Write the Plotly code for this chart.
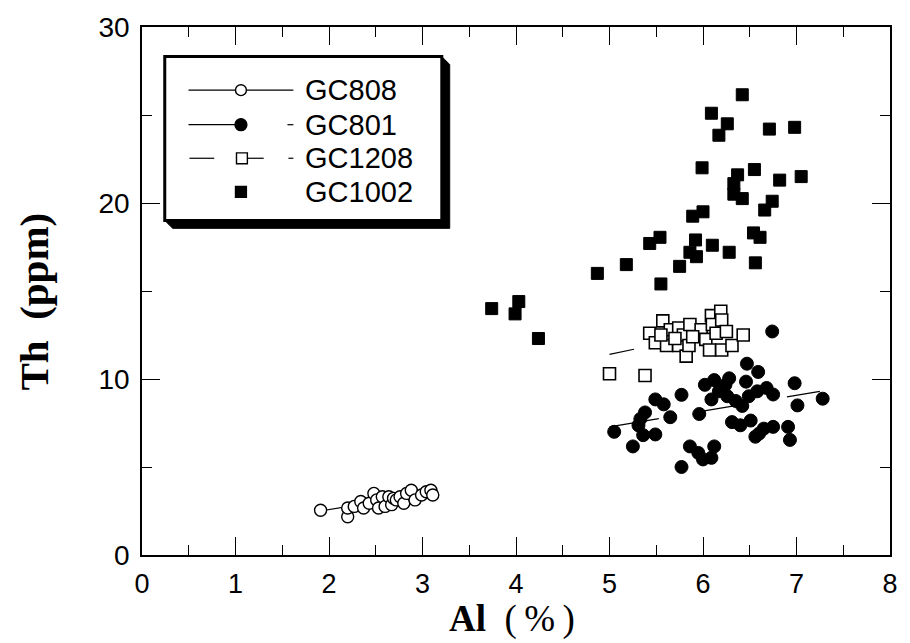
import plotly.graph_objects as go

# ---------------- data ----------------
gc808_al = [1.91, 2.20, 2.20, 2.27, 2.34, 2.37, 2.43, 2.48, 2.51, 2.53, 2.57, 2.60, 2.64,
            2.67, 2.69, 2.72, 2.76, 2.80, 2.83, 2.88, 2.92, 2.99, 3.04, 3.09, 3.11]
gc808_th = [2.54, 2.17, 2.67, 2.76, 3.04, 2.67, 2.94, 3.50, 3.13, 2.67, 3.31, 2.76, 3.31,
            2.86, 3.22, 3.13, 3.31, 2.94, 3.50, 3.68, 3.13, 3.41, 3.59, 3.68, 3.41]

gc801_al = [6.74, 6.47, 6.59, 6.98, 7.28, 7.01, 5.77, 5.49, 5.58, 5.38, 5.33, 5.31, 5.05,
            5.65, 5.36, 5.49, 5.25, 5.96, 5.77, 5.86, 5.95, 6.00, 6.09, 6.12, 6.02, 6.12,
            6.28, 6.17, 6.09, 6.26, 6.35, 6.46, 6.49, 6.58, 6.68, 6.75, 6.42, 6.31, 6.40,
            6.51, 6.60, 6.65, 6.75, 6.91, 6.93, 6.56, 6.24]
gc801_th = [12.7, 10.87, 10.4, 9.76, 8.88, 8.5, 9.1, 8.84, 8.56, 8.1, 7.73, 7.37, 7.0,
            7.83, 6.81, 6.85, 6.17, 8.01, 5.0, 6.17, 5.8, 5.43, 5.52, 6.17, 9.67, 9.94,
            10.04, 9.3, 8.84, 9.02, 8.75, 9.85, 9.02, 9.3, 9.49, 9.12, 8.47, 7.55, 7.37,
            7.64, 6.9, 7.18, 7.28, 7.28, 6.54, 6.72, 9.67]

gc1208_al = [5.00, 5.38, 5.43, 5.49, 5.57, 5.61, 5.65, 5.74, 5.74, 5.79, 5.82, 5.85, 5.86,
             5.98, 6.03, 6.07, 6.09, 6.10, 6.19, 6.20, 6.14, 6.20, 6.25, 6.31, 6.43, 5.55,
             5.70, 5.89]
gc1208_th = [10.3, 10.2, 12.6, 12.06, 13.3, 11.9, 12.8, 12.9, 11.9, 12.5, 11.3, 11.9, 13.1,
             12.8, 12.25, 11.65, 13.6, 13.1, 13.85, 13.35, 12.6, 11.65, 12.7, 11.9, 12.5, 12.5,
             12.3, 12.4]

gc1002_al = [6.42, 6.09, 6.26, 6.17, 6.71, 6.98, 5.99, 6.55, 6.37, 6.82, 7.05, 6.33, 6.33,
             6.42, 6.74, 6.66, 6.00, 5.89, 6.54, 6.61, 5.54, 5.43, 5.92, 6.10, 6.28, 5.86,
             5.93, 5.75, 6.56, 5.18, 4.87, 5.55, 4.03, 3.99, 3.74, 4.24]
gc1002_th = [26.15, 25.1, 24.5, 23.85, 24.2, 24.3, 22.0, 21.9, 21.6, 21.3, 21.5, 21.1, 20.5,
             20.25, 20.1, 19.6, 19.5, 19.25, 18.3, 18.05, 18.05, 17.7, 17.9, 17.6, 17.2, 17.2,
             16.95, 16.4, 16.6, 16.5, 16.0, 15.4, 14.4, 13.7, 14.0, 12.3]

# fitted trend lines (end points)
fit808_al, fit808_th = [1.91, 3.10], [2.50, 3.55]
fit801_al, fit801_th = [5.00, 7.25], [7.28, 9.30]
fit1208_al, fit1208_th = [5.00, 6.40], [11.40, 12.95]

x_ticks = [0, 1, 2, 3, 4, 5, 6, 7, 8]
y_ticks = [0, 10, 20, 30]
series_names = ["GC808", "GC801", "GC1208", "GC1002"]

# ---------------- layout geometry ----------------
W, H = 910, 643
L, R, T, B = 142, 12, 20, 88
PW, PH = W - L - R, H - T - B


def px(xp):
    return (xp - L) / PW


def py(yp):
    return (T + PH - yp) / PH


fig = go.Figure()

# trend lines
fig.add_trace(go.Scatter(x=fit808_al, y=fit808_th, mode="lines",
                         line=dict(color="black", width=1.2), showlegend=False, hoverinfo="skip"))
fig.add_trace(go.Scatter(x=fit801_al, y=fit801_th, mode="lines",
                         line=dict(color="black", width=1.2, dash="50px,40px"), showlegend=False,
                         hoverinfo="skip"))
fig.add_trace(go.Scatter(x=fit1208_al, y=fit1208_th, mode="lines",
                         line=dict(color="black", width=1.2, dash="25px,25px"), showlegend=False,
                         hoverinfo="skip"))

# markers
fig.add_trace(go.Scatter(x=gc1002_al, y=gc1002_th, mode="markers", name=series_names[3],
                         marker=dict(symbol="square", size=12, color="black",
                                     line=dict(color="black", width=1)), showlegend=False))
fig.add_trace(go.Scatter(x=gc801_al, y=gc801_th, mode="markers", name=series_names[1],
                         marker=dict(symbol="circle", size=13, color="black",
                                     line=dict(color="black", width=1)), showlegend=False))
fig.add_trace(go.Scatter(x=gc1208_al, y=gc1208_th, mode="markers", name=series_names[2],
                         marker=dict(symbol="square", size=12, color="white",
                                     line=dict(color="black", width=1.6)), showlegend=False))
fig.add_trace(go.Scatter(x=gc808_al, y=gc808_th, mode="markers", name=series_names[0],
                         marker=dict(symbol="circle", size=12, color="white",
                                     line=dict(color="black", width=1.4)), showlegend=False))

# ---------------- custom legend box with 3-D shadow ----------------
shapes = []
bx0, by0, bx1, by1, sh = 165, 50, 445, 216, 8
shapes.append(dict(type="path", xref="paper", yref="paper",
                   path=(f"M {px(bx1)},{py(by0)} L {px(bx1 + sh)},{py(by0 + sh)} "
                         f"L {px(bx1 + sh)},{py(by1 + sh)} L {px(bx0 + sh)},{py(by1 + sh)} "
                         f"L {px(bx0)},{py(by1)} Z"),
                   fillcolor="black", line=dict(color="black", width=1)))
shapes.append(dict(type="rect", xref="paper", yref="paper",
                   x0=px(bx0), x1=px(bx1), y0=py(by0), y1=py(by1),
                   fillcolor="white", line=dict(color="black", width=3)))

rows = [84, 119, 153, 187]
text_x = 305


def hline(x0, x1, y):
    shapes.append(dict(type="line", xref="paper", yref="paper",
                       x0=px(x0), x1=px(x1), y0=py(y), y1=py(y),
                       line=dict(color="black", width=1.2)))


def circ(cx, cy, r, fill):
    shapes.append(dict(type="circle", xref="paper", yref="paper",
                       x0=px(cx - r), x1=px(cx + r), y0=py(cy - r), y1=py(cy + r),
                       fillcolor=fill, line=dict(color="black", width=1.4)))


def sq(cx, cy, r, fill):
    shapes.append(dict(type="rect", xref="paper", yref="paper",
                       x0=px(cx - r), x1=px(cx + r), y0=py(cy - r), y1=py(cy + r),
                       fillcolor=fill, line=dict(color="black", width=1.4)))


# GC808
hline(189, 295, rows[0]); circ(242, rows[0], 5.5, "white")
# GC801
hline(189, 238, rows[1]); hline(289, 295, rows[1]); circ(242, rows[1], 6, "black")
# GC1208
hline(190, 215, rows[2]); hline(248, 265, rows[2]); hline(290, 295, rows[2]); sq(243, rows[2], 5.5, "white")
# GC1002
sq(242, rows[3], 5.5, "black")

annotations = []
for name, yy in zip(series_names, rows):
    annotations.append(dict(text=name, xref="paper", yref="paper", x=px(text_x), y=py(yy),
                            xanchor="left", yanchor="middle", showarrow=False,
                            font=dict(family="Liberation Sans", size=29, color="black")))

# axis titles
annotations.append(dict(text="<b>Th\u00a0\u00a0(ppm)</b>",
                        xref="paper", yref="paper",
                        x=px(33), y=py(298), textangle=-90, showarrow=False,
                        xanchor="center", yanchor="middle",
                        font=dict(family="Liberation Serif", size=41, color="black")))
annotations.append(dict(text="<b>Al</b>\u00a0\u00a0(\u2009%\u2009)", xref="paper", yref="paper",
                        x=px(516), y=py(620), showarrow=False,
                        xanchor="center", yanchor="middle",
                        font=dict(family="Liberation Serif", size=37, color="black")))

axis_common = dict(showgrid=False, zeroline=False, showline=True, linecolor="black",
                   linewidth=1.5, ticks="inside", tickcolor="black", tickwidth=1.3,
                   mirror="ticks")

fig.update_layout(
    width=W, height=H,
    margin=dict(l=L, r=R, t=T, b=B),
    paper_bgcolor="white", plot_bgcolor="white",
    showlegend=False,
    shapes=shapes,
    annotations=annotations,
    xaxis=dict(range=[0, 8], tickmode="array", tickvals=x_ticks,
               ticktext=[str(v) for v in x_ticks], ticklen=18,
               tickfont=dict(family="Liberation Sans", size=27, color="black"),
               minor=dict(ticks="inside", ticklen=10, dtick=0.5, tick0=0,
                          tickcolor="black", tickwidth=1.3),
               ticklabelstandoff=4, **axis_common),
    yaxis=dict(range=[0, 30], tickmode="array", tickvals=y_ticks,
               ticktext=[str(v) for v in y_ticks], ticklen=18,
               tickfont=dict(family="Liberation Sans", size=28, color="black"),
               minor=dict(ticks="inside", ticklen=10, dtick=5, tick0=0,
                          tickcolor="black", tickwidth=1.3),
               ticklabelstandoff=5, **axis_common),
)

fig.write_html("out.html", config={"displayModeBar": False},
               post_script="document.body.style.margin='0';document.body.style.overflow='hidden';")
